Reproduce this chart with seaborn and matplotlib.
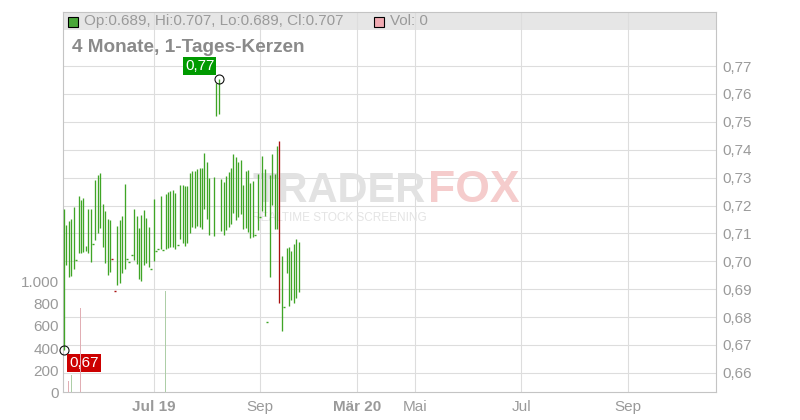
import numpy as np
import pandas as pd
import matplotlib
matplotlib.use("Agg")
import matplotlib.pyplot as plt
from matplotlib.patches import Rectangle
import seaborn as sns

# ---------------- data ----------------
highs = [0.7187, 0.7130, 0.7144, 0.7152, 0.7195, 0.7005, 0.7234, 0.7220, 0.7227, 0.7055,
         0.7187, 0.7187, 0.7061, 0.7291, 0.7309, 0.7317, 0.7206, 0.7180, 0.7152, 0.7148,
         0.7008, 0.6895, 0.7127, 0.7148, 0.7162, 0.7277, 0.7007, 0.6996, 0.7022, 0.7187,
         0.7162, 0.7119, 0.7166, 0.7184, 0.7155, 0.7123, 0.6971, 0.7223, 0.7036, 0.7043,
         0.7234, 0.7039, 0.7241, 0.7248, 0.7252, 0.7256, 0.7246, 0.7057, 0.7273, 0.7273,
         0.7270, 0.7270, 0.7317, 0.7325, 0.7325, 0.7331, 0.7334, 0.7336, 0.7387, 0.7357,
         0.7298, None,   0.7303, 0.7638, 0.7653, 0.7294, 0.7283, 0.7306, 0.7319, 0.7336,
         0.7384, 0.7375, 0.7357, 0.7362, 0.7273, 0.7324, 0.7327, 0.7280, 0.7288, 0.7093,
         0.7312, 0.7159, 0.7377, 0.7331, 0.6781, 0.7309, 0.7385, 0.7312, 0.7413, 0.7431,
         0.7019, 0.6835, 0.7047, 0.7050, 0.7038, 0.7062, 0.7079, 0.7070]
lows = [0.6682, 0.6987, 0.6945, 0.6947, 0.6974, 0.7005, 0.7031, 0.7029, 0.7034, 0.7038,
        0.7031, 0.6999, 0.7061, 0.7076, 0.7100, 0.7118, 0.7052, 0.6995, 0.6952, 0.6962,
        0.7008, 0.6895, 0.6916, 0.6923, 0.6957, 0.6974, 0.7007, 0.6996, 0.7022, 0.7005,
        0.6991, 0.6938, 0.6930, 0.6988, 0.6993, 0.6981, 0.6971, 0.7002, 0.7036, 0.7043,
        0.7043, 0.7039, 0.7043, 0.7047, 0.7050, 0.7052, 0.7045, 0.7057, 0.7079, 0.7067,
        0.7055, 0.7067, 0.7100, 0.7124, 0.7118, 0.7128, 0.7124, 0.7116, 0.7187, 0.7151,
        0.7094, None,   0.7091, 0.7521, 0.7528, 0.7109, 0.7094, 0.7112, 0.7124, 0.7133,
        0.7172, 0.7148, 0.7160, 0.7168, 0.7115, 0.7120, 0.7105, 0.7082, 0.7088, 0.7093,
        0.7112, 0.7159, 0.7180, 0.7162, 0.6781, 0.6943, 0.7202, 0.7116, 0.7116, 0.6850,
        0.6751, 0.6835, 0.6959, 0.6841, 0.6861, 0.6850, 0.6867, 0.6890]
down_days = [20, 21, 89]

vol_days = [2, 3, 7, 42]
vol_values = [100, 155, 760, 920]
vol_dirs = ["down", "up", "down", "up"]

price_ticks = [0.66, 0.67, 0.68, 0.69, 0.70, 0.71, 0.72, 0.73, 0.74, 0.75, 0.76, 0.77]
vol_ticks = [0, 200, 400, 600, 800, 1000]
x_tick_pos = [37, 81, 121, 145, 189, 233]
x_tick_labels = ["Jul 19", "Sep", "Mär 20", "Mai", "Jul", "Sep"]
x_tick_bold = [True, False, True, False, False, False]

last_ohlc = [0.689, 0.707, 0.689, 0.707]
last_vol = 0
title = "4 Monate, 1-Tages-Kerzen"

# ---------------- styling ----------------
GREEN = "#3fa526"
RED = "#a81010"
GRID = "#dddddd"
TXT = "#9a9a9a"

sns.set_theme(style="white")
plt.rcParams["font.family"] = ["Liberation Sans", "DejaVu Sans"]

W, H = 800, 420
fig = plt.figure(figsize=(8, 4.2), dpi=100)
L, R, T, B = 63, 716, 12, 392
ax = fig.add_axes([L / W, (H - B) / H, (R - L) / W, (B - T) / H])
ax2 = ax.twinx()

# ---------------- candles ----------------
rows, doji_x, doji_y, doji_c = [], [], [], []
for i, (h, l) in enumerate(zip(highs, lows)):
    if h is None:
        continue
    d = "down" if i in down_days else "up"
    if h > l:
        rows.append((i, l, d))
        rows.append((i, h, d))
    else:
        doji_x.append(i)
        doji_y.append(h)
        doji_c.append(RED if d == "down" else GREEN)
candles = pd.DataFrame(rows, columns=["day", "price", "dir"])
sns.lineplot(data=candles, x="day", y="price", units="day", estimator=None,
             hue="dir", palette={"up": GREEN, "down": RED}, sort=False,
             legend=False, linewidth=0.95, solid_capstyle="butt", ax=ax, zorder=3)
ax.hlines(doji_y, np.array(doji_x) - 0.45, np.array(doji_x) + 0.45,
          colors=doji_c, linewidth=1.0, zorder=3)

# ---------------- volume ----------------
sns.barplot(x=vol_days, y=vol_values, hue=vol_dirs,
            palette={"up": "#a8d5a0", "down": "#eaa5ad"},
            native_scale=True, width=0.45, dodge=False, legend=False,
            errorbar=None, linewidth=0, ax=ax2)

# ---------------- axes ranges ----------------
px_per_unit = 2.42
ax.set_xlim((L - 64) / px_per_unit, (R - 64) / px_per_unit)
p_per_px = 0.01 / 27.9
ax.set_ylim(0.77 - (B - 66) * p_per_px, 0.77 + (66 - T) * p_per_px)
ax2.set_ylim(0, (B - T) / 110 * 1000)

# header band
band_low = 0.77 + (66 - 30) * p_per_px
ax.axhspan(band_low, 1.0, color="#e6e6e6", zorder=0.3, linewidth=0)

# ---------------- ticks ----------------
ax.set_xticks(x_tick_pos, x_tick_labels)
for lab, b in zip(ax.get_xticklabels(), x_tick_bold):
    lab.set_fontweight("bold" if b else "normal")
ax.set_yticks(price_ticks, [f"{v:.2f}".replace(".", ",") for v in price_ticks])
ax.yaxis.tick_right()
ax.tick_params(axis="y", length=0, pad=4.5, labelcolor=TXT, labelsize=11)
ax.tick_params(axis="x", length=3, width=0.8, color="#bbbbbb", pad=3,
               labelcolor=TXT, labelsize=11)
ax2.yaxis.tick_left()
ax2.set_yticks(vol_ticks, [f"{v:,}".replace(",", ".") for v in vol_ticks])
ax2.tick_params(axis="y", length=0, pad=3, labelcolor=TXT, labelsize=11)

ax.set_axisbelow(True)
ax.grid(True, color=GRID, linewidth=0.8)
ax2.grid(False)
for a in (ax, ax2):
    a.set_xlabel("")
    a.set_ylabel("")
for s in ax.spines.values():
    s.set_color("#c4c4c4")
    s.set_linewidth(0.8)
for s in ax2.spines.values():
    s.set_visible(False)

# ---------------- watermark ----------------
ax.text((426 - L) / (R - L), (B - 191) / (B - T), "TRADER", transform=ax.transAxes,
        ha="right", va="center", fontsize=30, fontweight="bold", color="#e2e2e2", zorder=0.6)
ax.text((428 - L) / (R - L), (B - 191) / (B - T), "FOX", transform=ax.transAxes,
        ha="left", va="center", fontsize=32, fontweight="bold", color="#f5cccc", zorder=0.6)
ax.text((252 - L) / (R - L), (B - 218) / (B - T), "REALTIME STOCK SCREENING",
        transform=ax.transAxes, ha="left", va="center", fontsize=8.5,
        color="#e4e4e4", zorder=0.6)

# ---------------- high / low markers ----------------
hv = np.array([np.nan if v is None else v for v in highs])
lv = np.array([np.nan if v is None else v for v in lows])
hi_i = int(np.nanargmax(hv))
lo_i = int(np.nanargmin(lv))
for xi, yi in ((hi_i, hv[hi_i]), (lo_i, lv[lo_i])):
    ax.plot([xi], [yi], marker="o", ms=6.5, mfc="none", mec="#111111", mew=0.8,
            clip_on=False, zorder=7)
ax.annotate(f"{hv[hi_i]:.2f}".replace(".", ","), xy=(hi_i, hv[hi_i]),
            xytext=(-3.2, 4.5), textcoords="offset points", ha="right", va="bottom",
            color="white", fontsize=11, zorder=8,
            bbox=dict(boxstyle="square,pad=0.12", fc="#009a00", ec="none"))
ax.annotate(f"{lv[lo_i]:.2f}".replace(".", ","), xy=(lo_i, lv[lo_i]),
            xytext=(3.8, -4.2), textcoords="offset points", ha="left", va="top",
            color="white", fontsize=11, zorder=8,
            bbox=dict(boxstyle="square,pad=0.15", fc="#cc0000", ec="none"))

# ---------------- header ----------------
fig.add_artist(Rectangle((68 / W, 1 - 27 / H), 10 / W, 10 / H, transform=fig.transFigure,
                         fc="#4aa83a", ec="black", lw=0.8, zorder=10))
fig.text(84 / W, 1 - 21 / H,
         "Op:{:.3f}, Hi:{:.3f}, Lo:{:.3f}, Cl:{:.3f}".format(*last_ohlc),
         ha="left", va="center", fontsize=11, color=TXT, zorder=10)
fig.add_artist(Rectangle((374 / W, 1 - 27 / H), 10 / W, 10 / H, transform=fig.transFigure,
                         fc="#f0aab2", ec="black", lw=0.8, zorder=10))
fig.text(390 / W, 1 - 21 / H, f"Vol: {last_vol}", ha="left", va="center",
         fontsize=11, color=TXT, zorder=10)
fig.text(72 / W, 1 - 47 / H, title, ha="left", va="center", fontsize=13.7,
         fontweight="bold", color="#8a8a8a", zorder=10)

fig.savefig("out.png", dpi=100)
